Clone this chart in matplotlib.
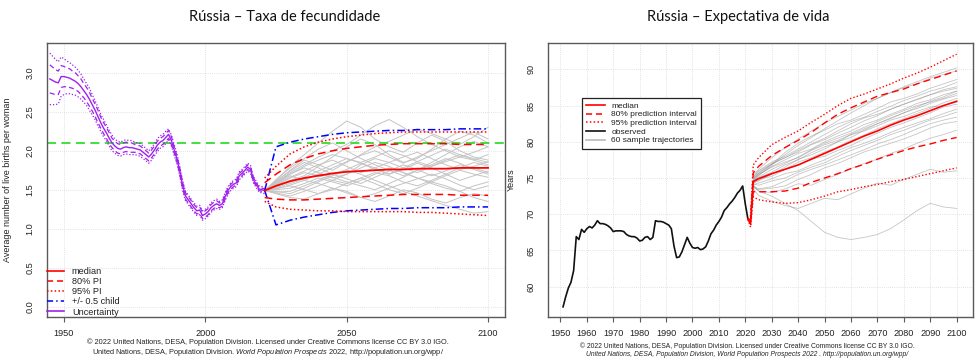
import numpy as np
import matplotlib
matplotlib.use('Agg')
import matplotlib.pyplot as plt
from matplotlib.lines import Line2D

plt.rcParams['font.family'] = ['Liberation Sans', 'DejaVu Sans']
plt.rcParams['mathtext.fontset'] = 'custom'
plt.rcParams['mathtext.rm'] = 'Liberation Sans'
plt.rcParams['mathtext.it'] = 'Liberation Sans:italic'

# ---------------- Fertility (TFR) ----------------
tfr_hist_years = list(range(1945, 2022))
tfr_hist_median = [2.92, 2.90, 2.88, 2.87, 2.95, 2.95, 2.94, 2.93, 2.91, 2.89,
                   2.86, 2.82, 2.77, 2.72, 2.66, 2.59, 2.52, 2.44, 2.36, 2.29,
                   2.23, 2.16, 2.10, 2.06, 2.03, 2.02, 2.04, 2.05, 2.04, 2.04,
                   2.03, 2.02, 2.01, 1.98, 1.95, 1.92, 1.96, 2.01, 2.07, 2.11,
                   2.13, 2.17, 2.21, 2.13, 2.01, 1.89, 1.73, 1.55, 1.42, 1.37,
                   1.32, 1.27, 1.23, 1.24, 1.17, 1.19, 1.22, 1.27, 1.30, 1.32,
                   1.30, 1.32, 1.41, 1.49, 1.54, 1.57, 1.59, 1.68, 1.71, 1.75,
                   1.79, 1.76, 1.63, 1.57, 1.51, 1.50, 1.49]
tfr_hist_hw80 = [0.18, 0.17, 0.16, 0.15, 0.14, 0.13, 0.12, 0.12, 0.11, 0.11,
                 0.10, 0.10, 0.09, 0.09, 0.09, 0.08, 0.08, 0.08, 0.07, 0.07,
                 0.07, 0.07, 0.06, 0.06, 0.06, 0.06, 0.06, 0.06, 0.06, 0.06,
                 0.05, 0.05, 0.05, 0.05, 0.05, 0.05, 0.05, 0.05, 0.05, 0.05,
                 0.05, 0.05, 0.05, 0.05, 0.04, 0.04, 0.04, 0.04, 0.04, 0.04,
                 0.04, 0.04, 0.04, 0.04, 0.04, 0.04, 0.04, 0.04, 0.04, 0.04,
                 0.03, 0.03, 0.03, 0.03, 0.03, 0.03, 0.03, 0.03, 0.03, 0.03,
                 0.03, 0.03, 0.03, 0.02, 0.02, 0.02, 0.02]
tfr_hist_hw95 = [0.33, 0.31, 0.29, 0.27, 0.25, 0.23, 0.21, 0.20, 0.19, 0.18,
                 0.17, 0.16, 0.15, 0.14, 0.14, 0.13, 0.12, 0.12, 0.11, 0.11,
                 0.10, 0.10, 0.10, 0.09, 0.09, 0.09, 0.09, 0.09, 0.09, 0.09,
                 0.08, 0.08, 0.08, 0.08, 0.08, 0.08, 0.08, 0.08, 0.08, 0.08,
                 0.08, 0.08, 0.07, 0.07, 0.07, 0.06, 0.06, 0.06, 0.06, 0.06,
                 0.06, 0.06, 0.06, 0.06, 0.06, 0.06, 0.06, 0.06, 0.06, 0.06,
                 0.05, 0.05, 0.05, 0.05, 0.05, 0.05, 0.05, 0.05, 0.05, 0.05,
                 0.05, 0.05, 0.04, 0.04, 0.04, 0.04, 0.04]

tfr_fc_years = [2021, 2025, 2030, 2035, 2040, 2045, 2050, 2055, 2060,
                2065, 2070, 2075, 2080, 2085, 2090, 2095, 2100]
tfr_fc_median = [1.49, 1.55, 1.61, 1.65, 1.68, 1.71, 1.73, 1.74, 1.75,
                 1.76, 1.76, 1.77, 1.77, 1.77, 1.78, 1.78, 1.78]
tfr_fc_up80 = [1.59, 1.70, 1.82, 1.90, 1.96, 2.00, 2.03, 2.05, 2.07,
               2.08, 2.09, 2.09, 2.09, 2.09, 2.08, 2.08, 2.08]
tfr_fc_lo80 = [1.40, 1.38, 1.37, 1.37, 1.38, 1.39, 1.40, 1.41, 1.42,
               1.43, 1.44, 1.44, 1.44, 1.44, 1.43, 1.43, 1.43]
tfr_fc_up95 = [1.65, 1.80, 1.96, 2.05, 2.11, 2.15, 2.18, 2.20, 2.22,
               2.23, 2.24, 2.24, 2.24, 2.24, 2.24, 2.24, 2.24]
tfr_fc_lo95 = [1.35, 1.28, 1.25, 1.24, 1.23, 1.23, 1.22, 1.22, 1.22,
               1.22, 1.22, 1.21, 1.21, 1.20, 1.19, 1.18, 1.17]
tfr_replacement = 2.1
tfr_child_offset = 0.5

tfr_trajectories = [
    [1.49, 1.62, 1.80, 1.95, 2.10, 2.25, 2.38, 2.30, 2.15, 2.05, 1.98, 2.10, 2.20, 2.12, 2.00, 1.92, 1.88],
    [1.49, 1.45, 1.40, 1.38, 1.45, 1.52, 1.48, 1.40, 1.35, 1.42, 1.50, 1.46, 1.38, 1.33, 1.40, 1.45, 1.42],
    [1.49, 1.58, 1.70, 1.78, 1.72, 1.65, 1.70, 1.82, 1.90, 1.85, 1.78, 1.72, 1.80, 1.88, 1.95, 1.90, 1.85],
    [1.49, 1.55, 1.62, 1.68, 1.80, 1.92, 2.05, 2.15, 2.08, 1.95, 1.85, 1.90, 2.02, 2.15, 2.25, 2.20, 2.10],
    [1.49, 1.50, 1.52, 1.58, 1.65, 1.60, 1.55, 1.62, 1.70, 1.78, 1.72, 1.65, 1.60, 1.68, 1.75, 1.70, 1.66],
    [1.49, 1.60, 1.75, 1.88, 1.82, 1.75, 1.85, 1.95, 2.05, 2.12, 2.20, 2.28, 2.22, 2.15, 2.08, 2.18, 2.30],
    [1.49, 1.48, 1.45, 1.52, 1.60, 1.68, 1.75, 1.70, 1.62, 1.55, 1.48, 1.42, 1.36, 1.30, 1.25, 1.20, 1.22],
    [1.49, 1.57, 1.66, 1.74, 1.82, 1.88, 1.80, 1.72, 1.78, 1.85, 1.92, 1.98, 1.90, 1.82, 1.76, 1.80, 1.86],
    [1.49, 1.53, 1.58, 1.64, 1.70, 1.66, 1.60, 1.55, 1.50, 1.58, 1.66, 1.75, 1.82, 1.90, 1.84, 1.76, 1.70],
    [1.49, 1.63, 1.78, 1.90, 2.02, 2.10, 2.00, 1.90, 1.82, 1.75, 1.68, 1.75, 1.85, 1.95, 2.05, 2.12, 2.05],
    [1.49, 1.46, 1.42, 1.48, 1.55, 1.62, 1.70, 1.78, 1.85, 1.80, 1.72, 1.65, 1.58, 1.52, 1.48, 1.55, 1.60],
    [1.49, 1.56, 1.65, 1.72, 1.68, 1.62, 1.58, 1.65, 1.72, 1.68, 1.60, 1.55, 1.62, 1.70, 1.78, 1.85, 1.80],
    [1.49, 1.59, 1.72, 1.82, 1.92, 2.00, 2.08, 2.20, 2.32, 2.40, 2.30, 2.18, 2.08, 2.00, 1.92, 1.98, 2.05],
    [1.49, 1.52, 1.55, 1.50, 1.45, 1.50, 1.58, 1.65, 1.58, 1.50, 1.45, 1.52, 1.60, 1.55, 1.48, 1.40, 1.35],
    [1.49, 1.61, 1.74, 1.85, 1.78, 1.70, 1.76, 1.84, 1.78, 1.70, 1.78, 1.86, 1.94, 2.02, 1.95, 1.88, 1.95],
    [1.49, 1.54, 1.60, 1.66, 1.74, 1.82, 1.90, 1.84, 1.76, 1.70, 1.76, 1.84, 1.78, 1.70, 1.62, 1.68, 1.74],
    [1.49, 1.47, 1.48, 1.55, 1.62, 1.70, 1.64, 1.58, 1.66, 1.74, 1.82, 1.76, 1.68, 1.74, 1.82, 1.78, 1.72],
    [1.49, 1.58, 1.68, 1.62, 1.70, 1.78, 1.86, 1.94, 2.00, 1.92, 1.84, 1.92, 2.00, 2.08, 2.16, 2.24, 2.15],
    [1.49, 1.51, 1.56, 1.62, 1.58, 1.52, 1.46, 1.40, 1.45, 1.52, 1.58, 1.64, 1.70, 1.64, 1.56, 1.50, 1.55],
    [1.49, 1.60, 1.70, 1.80, 1.88, 1.95, 1.90, 1.85, 1.92, 2.00, 1.94, 1.86, 1.80, 1.86, 1.92, 1.88, 1.82],
]

tfr_xticks = [1950, 2000, 2050, 2100]
tfr_yticks = [0.0, 0.5, 1.0, 1.5, 2.0, 2.5, 3.0]
tfr_legend_labels = ['median', '80% PI', '95% PI', '+/- 0.5 child', 'Uncertainty']

# ---------------- Life expectancy (e0) ----------------
e0_obs_years = list(range(1951, 2022))
e0_obs = [57.2, 58.6, 59.8, 60.6, 62.2, 66.9, 66.5, 67.9, 67.5, 68.0,
          68.3, 68.1, 68.5, 69.1, 68.7, 68.7, 68.6, 68.4, 68.1, 67.6,
          67.7, 67.7, 67.7, 67.6, 67.2, 67.0, 66.9, 66.9, 66.7, 66.3,
          66.4, 66.8, 66.9, 66.5, 66.8, 69.1, 69.0, 69.0, 68.9, 68.7,
          68.5, 68.0, 65.6, 64.0, 64.1, 64.8, 65.8, 66.8, 66.0, 65.4,
          65.3, 65.4, 65.1, 65.2, 65.5, 66.3, 67.3, 67.8, 68.5, 69.0,
          69.6, 70.5, 70.9, 71.4, 71.8, 72.3, 72.9, 73.3, 73.9, 71.4,
          69.3]

e0_fc_years = [2021, 2022, 2023, 2025, 2030, 2035, 2040, 2045, 2050, 2055,
               2060, 2065, 2070, 2075, 2080, 2085, 2090, 2095, 2100]
e0_fc_median = [69.3, 68.8, 74.5, 74.9, 75.6, 76.2, 76.8, 77.6, 78.4, 79.2,
                80.0, 80.8, 81.5, 82.3, 83.0, 83.6, 84.3, 85.0, 85.6]
e0_fc_up80 = [69.3, 69.3, 75.7, 76.6, 78.1, 79.2, 80.2, 81.3, 82.6, 83.8,
              84.7, 85.5, 86.3, 86.8, 87.3, 88.0, 88.6, 89.2, 89.8]
e0_fc_lo80 = [69.3, 68.6, 73.1, 73.1, 73.1, 73.2, 73.6, 74.4, 75.0, 75.6,
              76.3, 76.9, 77.6, 78.2, 78.8, 79.3, 79.7, 80.2, 80.6]
e0_fc_up95 = [69.3, 69.8, 76.8, 77.8, 79.6, 80.6, 81.5, 82.7, 83.8, 85.0,
              86.0, 86.6, 87.3, 88.0, 88.8, 89.5, 90.3, 91.2, 92.1]
e0_fc_lo95 = [69.3, 68.2, 72.4, 72.0, 71.7, 71.5, 71.6, 72.0, 72.5, 73.1,
              73.4, 73.8, 74.1, 74.5, 74.8, 75.2, 75.6, 76.0, 76.4]

e0_traj_years = [2023, 2025, 2030, 2035, 2040, 2045, 2050, 2055, 2060,
                 2065, 2070, 2075, 2080, 2085, 2090, 2095, 2100]
e0_trajectories = [
    [74.6, 75.3, 76.8, 78.2, 79.5, 80.6, 81.8, 82.9, 84.0, 85.0, 86.0, 86.8, 87.6, 88.3, 89.0, 89.6, 90.2],
    [74.2, 74.0, 74.6, 75.0, 75.8, 76.5, 77.1, 78.0, 78.8, 79.5, 80.2, 81.0, 81.6, 82.3, 83.0, 83.5, 84.1],
    [75.0, 75.6, 76.9, 77.8, 78.6, 79.6, 80.3, 81.2, 82.0, 82.9, 83.6, 84.5, 85.2, 85.8, 86.5, 87.2, 87.6],
    [73.8, 73.2, 73.0, 73.5, 74.2, 74.0, 74.8, 75.5, 76.3, 77.0, 77.6, 78.4, 79.0, 79.8, 80.5, 81.0, 81.6],
    [74.5, 75.0, 75.8, 76.8, 77.5, 78.5, 79.3, 80.0, 81.0, 81.8, 82.5, 83.3, 84.0, 84.6, 85.3, 85.9, 86.4],
    [75.4, 76.2, 77.8, 79.2, 80.4, 81.5, 82.6, 83.5, 84.4, 85.3, 86.0, 86.8, 87.5, 88.0, 88.8, 89.3, 89.8],
    [74.0, 73.2, 72.5, 71.5, 70.5, 69.0, 67.5, 66.8, 66.5, 66.8, 67.2, 68.0, 69.2, 70.5, 71.5, 71.0, 70.8],
    [74.8, 75.5, 76.5, 77.2, 77.8, 78.8, 79.6, 80.2, 81.0, 81.5, 82.2, 83.0, 83.5, 84.2, 84.8, 85.0, 85.5],
    [74.3, 74.6, 75.5, 76.5, 77.6, 78.2, 79.0, 80.0, 80.6, 81.6, 82.5, 83.2, 84.0, 84.8, 85.6, 86.2, 87.0],
    [73.9, 73.5, 73.8, 74.6, 75.5, 76.2, 76.8, 77.5, 78.2, 78.9, 79.7, 80.3, 81.0, 81.8, 82.5, 83.0, 83.4],
    [75.2, 76.0, 77.2, 78.0, 79.0, 80.0, 81.0, 82.0, 82.8, 83.4, 84.2, 84.9, 85.7, 86.3, 87.0, 87.5, 88.2],
    [74.4, 74.9, 75.2, 76.2, 76.8, 77.6, 78.0, 78.8, 79.5, 80.4, 81.2, 82.0, 82.6, 83.3, 84.0, 84.8, 85.2],
    [73.5, 72.6, 71.8, 71.2, 70.8, 71.5, 72.2, 72.0, 72.8, 73.6, 74.3, 74.0, 74.8, 75.5, 76.2, 75.8, 76.0],
    [74.7, 75.4, 76.6, 77.5, 78.4, 79.0, 80.0, 80.8, 81.5, 82.4, 83.0, 83.8, 84.5, 85.3, 85.8, 86.5, 87.0],
    [74.9, 75.7, 76.9, 78.5, 79.8, 80.8, 81.6, 82.5, 83.0, 83.8, 84.6, 85.5, 86.0, 86.6, 87.4, 88.0, 88.6],
    [74.1, 74.3, 74.9, 75.6, 76.0, 76.8, 77.5, 78.4, 79.2, 79.8, 80.5, 81.3, 82.0, 82.6, 83.2, 83.9, 84.5],
    [74.6, 75.1, 76.2, 77.0, 77.9, 78.9, 79.8, 80.5, 81.2, 82.0, 82.8, 83.6, 84.3, 85.0, 85.5, 86.0, 86.7],
    [73.7, 73.4, 73.6, 73.9, 74.8, 75.5, 76.4, 77.0, 77.8, 78.6, 79.2, 79.8, 80.4, 81.1, 81.9, 82.5, 82.8],
    [75.1, 75.9, 77.0, 77.8, 78.8, 79.7, 80.5, 81.5, 82.5, 83.3, 83.8, 84.5, 85.2, 85.9, 86.5, 87.0, 87.4],
    [74.3, 74.7, 75.6, 76.2, 77.2, 77.8, 78.6, 79.3, 80.2, 80.9, 81.8, 82.5, 83.2, 83.9, 84.6, 85.4, 86.0],
]
e0_xticks = list(range(1950, 2101, 10))
e0_yticks = [60, 65, 70, 75, 80, 85, 90]
e0_legend_labels = ['median', '80% prediction interval', '95% prediction interval',
                    'observed', '60 sample trajectories']

titles = ['Rússia – Taxa de fecundidade', 'Rússia – Expectativa de vida']
caption1 = '© 2022 United Nations, DESA, Population Division. Licensed under Creative Commons license CC BY 3.0 IGO.'
caption2_left = ('United Nations, DESA, Population Division. '
                 r'$\mathit{World\ Population\ Prospects\ 2022}$, http://population.un.org/wpp/')
caption2_right = 'United Nations, DESA, Population Division, World Population Prospects 2022 . http://population.un.org/wpp/'

# ---------------- figure ----------------
W, H = 977, 363
fig = plt.figure(figsize=(W / 100, H / 100), dpi=100)
ax1 = fig.add_axes([47 / W, 1 - 317 / H, 458 / W, 274 / H])
ax2 = fig.add_axes([548 / W, 1 - 317 / H, 425 / W, 274 / H])


def style(ax):
    for s in ax.spines.values():
        s.set_color('#5a5a5a')
        s.set_linewidth(1.0)
    ax.tick_params(axis='x', length=3.5, width=0.8, color='#5a5a5a', pad=5,
                   labelsize=6.6, labelcolor='#222222')
    ax.tick_params(axis='y', length=0, pad=9, labelsize=6.6, labelcolor='#222222',
                   labelrotation=90)
    for lab in ax.get_yticklabels():
        lab.set_va('center')
    ax.grid(True, color='#d9d9d9', linestyle=(0, (1, 1.5)), linewidth=0.6)
    ax.set_axisbelow(True)


# ---- left: TFR ----
fy = np.array(tfr_fc_years)
for tr in tfr_trajectories:
    ax1.plot(fy, tr, color='#c4c4c4', lw=0.7, zorder=1)

hy = np.array(tfr_hist_years)
hm = np.array(tfr_hist_median)
h80 = np.array(tfr_hist_hw80)
h95 = np.array(tfr_hist_hw95)
purple = '#A020F0'
ax1.plot(hy, hm, color=purple, lw=1.0, zorder=3)
ax1.plot(hy, hm + h80, color=purple, lw=0.9, ls=(0, (4, 2.5)), zorder=3)
ax1.plot(hy, hm - h80, color=purple, lw=0.9, ls=(0, (4, 2.5)), zorder=3)
ax1.plot(hy, hm + h95, color=purple, lw=0.9, ls=(0, (1, 1.5)), zorder=3)
ax1.plot(hy, hm - h95, color=purple, lw=0.9, ls=(0, (1, 1.5)), zorder=3)

ax1.axhline(tfr_replacement, color='#33dd33', lw=1.3, ls=(0, (5, 3)), zorder=2)

med = np.array(tfr_fc_median)
blue_y_up = np.concatenate([[med[0]], med[1:] + tfr_child_offset])
blue_y_lo = np.concatenate([[med[0]], med[1:] - tfr_child_offset])
ax1.plot(fy, blue_y_up, color='#0000FF', lw=1.1, ls=(0, (5, 2, 1, 2)), zorder=4)
ax1.plot(fy, blue_y_lo, color='#0000FF', lw=1.1, ls=(0, (5, 2, 1, 2)), zorder=4)

ax1.plot(fy, tfr_fc_up80, color='#FF0000', lw=1.1, ls=(0, (5, 3)), zorder=5)
ax1.plot(fy, tfr_fc_lo80, color='#FF0000', lw=1.1, ls=(0, (5, 3)), zorder=5)
ax1.plot(fy, tfr_fc_up95, color='#FF0000', lw=1.1, ls=(0, (1, 1.5)), zorder=5)
ax1.plot(fy, tfr_fc_lo95, color='#FF0000', lw=1.1, ls=(0, (1, 1.5)), zorder=5)
ax1.plot(fy, med, color='#FF0000', lw=1.3, zorder=6)

ax1.set_xlim(1944, 2106)
ax1.set_ylim(-0.13, 3.38)
ax1.set_xticks(tfr_xticks)
ax1.set_yticks(tfr_yticks)
ax1.set_yticklabels([f'{v:.1f}' for v in tfr_yticks])
style(ax1)
ax1.set_ylabel('Average number of live births per woman', fontsize=6.5, color='#222222')
ax1.yaxis.set_label_coords(-0.076, 0.5)

h_tfr = [Line2D([], [], color='#FF0000', lw=1.2),
         Line2D([], [], color='#FF0000', lw=1.1, ls=(0, (4, 2.5))),
         Line2D([], [], color='#FF0000', lw=1.1, ls=(0, (1, 1.5))),
         Line2D([], [], color='#0000FF', lw=1.1, ls=(0, (4, 2, 1, 2))),
         Line2D([], [], color=purple, lw=1.2)]
leg1 = ax1.legend(h_tfr, tfr_legend_labels, loc='lower left', bbox_to_anchor=(-0.004, -0.005),
                  frameon=False, fontsize=6.6, handlelength=1.9, handletextpad=0.8,
                  labelspacing=0.12, borderaxespad=0.0, borderpad=0.2)
for t in leg1.get_texts():
    t.set_color('#222222')

# ---- right: e0 ----
ty = np.array(e0_traj_years)
for tr in e0_trajectories:
    ax2.plot(ty, tr, color='#808080', lw=0.6, alpha=0.45, zorder=1)

ax2.plot(e0_obs_years, e0_obs, color='#111111', lw=1.2, zorder=3)
ey = np.array(e0_fc_years)
ax2.plot(ey, e0_fc_up95, color='#FF0000', lw=1.0, ls=(0, (1, 1.5)), zorder=4)
ax2.plot(ey, e0_fc_lo95, color='#FF0000', lw=1.0, ls=(0, (1, 1.5)), zorder=4)
ax2.plot(ey, e0_fc_up80, color='#FF0000', lw=1.0, ls=(0, (5, 3)), zorder=4)
ax2.plot(ey, e0_fc_lo80, color='#FF0000', lw=1.0, ls=(0, (5, 3)), zorder=4)
ax2.plot(ey, e0_fc_median, color='#FF0000', lw=1.2, zorder=5)

ax2.set_xlim(1945.3, 2106.2)
ax2.set_ylim(55.8, 93.65)
ax2.set_xticks(e0_xticks)
ax2.set_yticks(e0_yticks)
style(ax2)
ax2.set_ylabel('Years', fontsize=6.5, color='#222222')
ax2.yaxis.set_label_coords(-0.075, 0.5)

h_e0 = [Line2D([], [], color='#FF0000', lw=1.2),
        Line2D([], [], color='#FF0000', lw=1.1, ls=(0, (4, 2.5))),
        Line2D([], [], color='#FF0000', lw=1.1, ls=(0, (1, 1.5))),
        Line2D([], [], color='#111111', lw=1.2),
        Line2D([], [], color='#bbbbbb', lw=1.2)]
leg2 = ax2.legend(h_e0, e0_legend_labels, loc='upper left', bbox_to_anchor=(0.08, 0.80),
                  frameon=True, fancybox=False, fontsize=6.0, handlelength=2.2,
                  handletextpad=0.8, labelspacing=0.1, borderaxespad=0.0, borderpad=0.5,
                  edgecolor='#222222', framealpha=1.0)
leg2.get_frame().set_linewidth(0.9)
for t in leg2.get_texts():
    t.set_color('#222222')

# ---- titles and captions ----
fig.text(285 / W, 1 - 17 / H, titles[0], fontsize=10.5, family=['Lato', 'DejaVu Sans'],
         ha='center', va='center', color='#111111')
fig.text(738 / W, 1 - 17 / H, titles[1], fontsize=10.5, family=['Lato', 'DejaVu Sans'],
         ha='center', va='center', color='#111111')

fig.text(268 / W, 1 - 342 / H, caption1, fontsize=5.3, ha='center', va='center', color='#222222')
fig.text(268 / W, 1 - 353 / H, caption2_left, fontsize=5.3, ha='center', va='center', color='#222222')
fig.text(747 / W, 1 - 346 / H, caption1, fontsize=4.9, ha='center', va='center', color='#222222')
fig.text(747 / W, 1 - 355 / H, caption2_right, fontsize=4.9, ha='center', va='center',
         color='#222222', style='italic')

fig.savefig('out.png', dpi=100, facecolor='white')
